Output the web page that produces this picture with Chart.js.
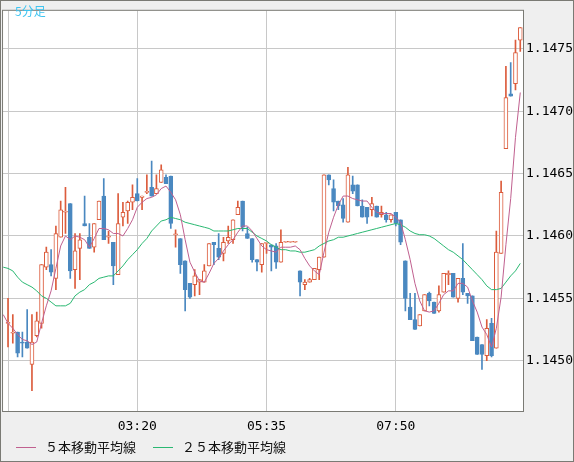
<!DOCTYPE html>
<html>
<head>
<meta charset="utf-8">
<script src="https://cdn.jsdelivr.net/npm/chart.js@4.4.1/dist/chart.umd.min.js"></script>
<style>
  html, body { margin: 0; padding: 0; background: #efefef; }
  #wrap { position: relative; width: 574px; height: 462px; overflow: hidden; }
  #c { position: absolute; left: 0; top: 0; }
  #title { position: absolute; left: 15px; top: 2px; font: 12px "Noto Sans CJK JP", sans-serif; color: #3ec4f0; }
  .lg { position: absolute; top: 438px; font: 13px "Noto Sans CJK JP", sans-serif; color: #111; white-space: nowrap; line-height: 18px; }
  .lg i { display: inline-block; width: 20px; height: 1px; vertical-align: middle; margin-right: 9px; position: relative; top: -1px; }
</style>
</head>
<body>
<div id="wrap">
  <canvas id="c" width="574" height="462"></canvas>
  <div id="title">5分足</div>
  <div class="lg" style="left:16px"><i style="background:#c0608f"></i>５本移動平均線</div>
  <div class="lg" style="left:153px"><i style="background:#2ab872"></i>２５本移動平均線</div>
</div>
<script>
// ---- data (5-minute bars, index 0 = 01:05) ----
const opens = [
1.14530,1.14522,1.14523,1.14515,1.14515,1.14497,1.14520,1.14530,1.14575,1.14577,
1.14566,1.14599,1.14619,1.14626,1.14573,1.14590,1.14610,1.14599,1.14591,1.14613,
1.14632,1.14599,1.14595,1.14569,1.14615,1.14620,1.14627,1.14634,1.14631,1.14635,
1.14639,1.14634,1.14643,1.14647,1.14648,1.14601,1.14598,1.14580,1.14562,1.14561,
1.14563,1.14563,1.14576,1.14595,1.14590,1.14586,1.14596,1.14597,1.14617,1.14628,
1.14602,1.14598,1.14581,1.14577,1.14594,1.14593,1.14592,1.14579,1.14595,1.14595,
1.14595,1.14572,1.14561,1.14563,1.14565,1.14573,1.14583,1.14649,1.14638,1.14628,
1.14625,1.14611,1.14641,1.14641,1.14624,1.14623,1.14621,1.14624,1.14617,1.14617,
1.14613,1.14619,1.14613,1.14580,1.14543,1.14533,1.14528,1.14540,1.14554,1.14547,
1.14540,1.14555,1.14569,1.14570,1.14550,1.14566,1.14554,1.14552,1.14519,1.14513,
1.14504,1.14530,1.14510,1.14586,1.14670,1.14714,1.14722,1.14757];
const highs = [
1.14550,1.14537,1.14523,1.14523,1.14541,1.14537,1.14539,1.14577,1.14591,1.14589,
1.14608,1.14628,1.14639,1.14626,1.14602,1.14602,1.14632,1.14610,1.14610,1.14628,
1.14646,1.14604,1.14595,1.14634,1.14627,1.14628,1.14641,1.14646,1.14632,1.14649,
1.14660,1.14649,1.14657,1.14649,1.14648,1.14605,1.14598,1.14580,1.14562,1.14573,
1.14565,1.14577,1.14594,1.14595,1.14602,1.14599,1.14608,1.14613,1.14628,1.14628,
1.14607,1.14598,1.14581,1.14594,1.14595,1.14593,1.14594,1.14605,1.14595,1.14595,
1.14595,1.14572,1.14565,1.14566,1.14574,1.14583,1.14649,1.14649,1.14645,1.14628,
1.14630,1.14655,1.14648,1.14641,1.14629,1.14623,1.14631,1.14624,1.14624,1.14619,
1.14617,1.14619,1.14613,1.14580,1.14554,1.14554,1.14537,1.14553,1.14555,1.14547,
1.14560,1.14570,1.14572,1.14570,1.14566,1.14594,1.14554,1.14552,1.14519,1.14513,
1.14533,1.14534,1.14604,1.14644,1.14736,1.14739,1.14757,1.14767];
const lows = [
1.14511,1.14514,1.14503,1.14503,1.14510,1.14476,1.14519,1.14526,1.14573,1.14568,
1.14557,1.14599,1.14602,1.14566,1.14558,1.14565,1.14608,1.14590,1.14587,1.14613,
1.14597,1.14594,1.14561,1.14569,1.14608,1.14610,1.14621,1.14628,1.14621,1.14634,
1.14632,1.14634,1.14643,1.14642,1.14606,1.14591,1.14570,1.14540,1.14550,1.14552,
1.14553,1.14563,1.14576,1.14577,1.14581,1.14580,1.14594,1.14594,1.14617,1.14604,
1.14598,1.14579,1.14572,1.14571,1.14586,1.14572,1.14574,1.14579,1.14595,1.14595,
1.14595,1.14552,1.14557,1.14563,1.14565,1.14565,1.14583,1.14641,1.14620,1.14621,
1.14611,1.14611,1.14634,1.14624,1.14615,1.14610,1.14616,1.14615,1.14615,1.14611,
1.14611,1.14608,1.14593,1.14540,1.14533,1.14525,1.14528,1.14540,1.14544,1.14538,
1.14539,1.14555,1.14561,1.14551,1.14547,1.14553,1.14546,1.14516,1.14505,1.14493,
1.14500,1.14503,1.14510,1.14586,1.14670,1.14712,1.14717,1.14748];
const closes = [
1.14530,1.14522,1.14506,1.14514,1.14510,1.14515,1.14532,1.14577,1.14587,1.14571,
1.14602,1.14621,1.14619,1.14572,1.14588,1.14597,1.14608,1.14590,1.14610,1.14628,
1.14597,1.14599,1.14576,1.14610,1.14619,1.14627,1.14631,1.14628,1.14632,1.14635,
1.14632,1.14638,1.14653,1.14642,1.14610,1.14601,1.14577,1.14557,1.14551,1.14568,
1.14565,1.14572,1.14594,1.14593,1.14583,1.14595,1.14599,1.14613,1.14623,1.14607,
1.14598,1.14581,1.14579,1.14594,1.14595,1.14591,1.14579,1.14595,1.14595,1.14595,
1.14595,1.14563,1.14563,1.14565,1.14574,1.14583,1.14649,1.14645,1.14627,1.14624,
1.14614,1.14649,1.14636,1.14624,1.14615,1.14615,1.14626,1.14615,1.14619,1.14613,
1.14617,1.14610,1.14595,1.14550,1.14533,1.14525,1.14537,1.14553,1.14548,1.14538,
1.14553,1.14570,1.14570,1.14551,1.14566,1.14555,1.14552,1.14516,1.14505,1.14505,
1.14526,1.14504,1.14587,1.14635,1.14711,1.14712,1.14747,1.14767];
// moving averages as drawn (first value belongs to the bar before index 0)
const ma5 = [
1.14537,1.14530,1.14526,1.14521,1.14517,1.14516,1.14513,1.14515,1.14530,1.14544,
1.14556,1.14574,1.14592,1.14600,1.14597,1.14600,1.14599,1.14597,1.14591,1.14598,
1.14606,1.14606,1.14605,1.14602,1.14602,1.14600,1.14606,1.14613,1.14623,1.14627,
1.14630,1.14631,1.14633,1.14638,1.14640,1.14635,1.14629,1.14617,1.14597,1.14579,
1.14571,1.14564,1.14563,1.14570,1.14578,1.14582,1.14588,1.14593,1.14597,1.14603,
1.14608,1.14608,1.14604,1.14598,1.14592,1.14589,1.14588,1.14587,1.14591,1.14591,
1.14591,1.14592,1.14589,1.14582,1.14576,1.14572,1.14569,1.14587,1.14603,1.14615,
1.14625,1.14632,1.14632,1.14630,1.14629,1.14628,1.14628,1.14623,1.14619,1.14618,
1.14618,1.14618,1.14615,1.14611,1.14597,1.14581,1.14562,1.14548,1.14540,1.14539,
1.14540,1.14546,1.14553,1.14556,1.14556,1.14562,1.14562,1.14559,1.14548,1.14539,
1.14527,1.14521,1.14511,1.14526,1.14551,1.14593,1.14630,1.14679,1.14715];
const ma25 = [
1.14575,1.14574,1.14572,1.14567,1.14563,1.14561,1.14559,1.14556,1.14552,1.14550,
1.14547,1.14544,1.14544,1.14544,1.14546,1.14552,1.14555,1.14557,1.14561,1.14563,
1.14566,1.14567,1.14568,1.14568,1.14572,1.14576,1.14581,1.14585,1.14589,1.14594,
1.14598,1.14604,1.14608,1.14612,1.14613,1.14615,1.14614,1.14613,1.14611,1.14610,
1.14609,1.14608,1.14607,1.14606,1.14604,1.14604,1.14604,1.14604,1.14605,1.14606,
1.14606,1.14606,1.14603,1.14600,1.14598,1.14596,1.14593,1.14591,1.14589,1.14589,
1.14588,1.14588,1.14587,1.14587,1.14588,1.14589,1.14592,1.14594,1.14596,1.14597,
1.14599,1.14599,1.14600,1.14601,1.14602,1.14603,1.14604,1.14605,1.14606,1.14607,
1.14608,1.14609,1.14610,1.14609,1.14607,1.14604,1.14602,1.14601,1.14601,1.14600,
1.14598,1.14595,1.14592,1.14589,1.14587,1.14584,1.14581,1.14577,1.14573,1.14569,
1.14565,1.14560,1.14557,1.14557,1.14558,1.14563,1.14568,1.14572,1.14578];
const xTickIndex  = [0, 27, 54, 81];
const xTickLabels = ['', '03:20', '05:35', '07:50'];
const yTickValues = [1.1450, 1.1455, 1.1460, 1.1465, 1.1470, 1.1475];
const yMin = 1.144597, yMax = 1.147805;
const xMin = -1.042, xMax = 107.57;

// ---- styles ----
const UP = '#dc5c3c', DOWN = '#4a88c0', MA5C = '#c0608f', MA25C = '#2ab872';
const GRID = '#c8c8c8', FRAME = '#7a7a74';

const isUp = opens.map((o, i) => closes[i] >= o);
const bodyData = opens.map((o, i) => ({ x: i, y: [o, closes[i]] }));
const wickData = lows.map((l, i) => ({ x: i, y: [l, highs[i]] }));
const ma5Data  = ma5.map((v, k) => ({ x: k - 1, y: v }));
const ma25Data = ma25.map((v, k) => ({ x: k - 1, y: v }));

const framePlugin = {
  id: 'frame',
  beforeDraw(chart) {
    const { ctx, chartArea: a } = chart;
    ctx.save();
    ctx.fillStyle = '#efefef';
    ctx.fillRect(0, 0, chart.width, chart.height);
    ctx.fillStyle = '#ffffff';
    ctx.fillRect(a.left, a.top, a.right - a.left, a.bottom - a.top);
    ctx.restore();
  },
  afterDraw(chart) {
    const { ctx, chartArea: a } = chart;
    ctx.save();
    ctx.strokeStyle = FRAME;
    ctx.lineWidth = 1;
    ctx.strokeRect(0.5, 0.5, chart.width - 1, chart.height - 1);
    ctx.strokeRect(a.left - 0.5, a.top - 0.5, a.right - a.left + 1, a.bottom - a.top + 1);
    ctx.restore();
  }
};

new Chart(document.getElementById('c'), {
  type: 'bar',
  data: {
    datasets: [
      { type: 'line', data: ma5Data, borderColor: MA5C, borderWidth: 1, pointRadius: 0, tension: 0, order: 0 },
      { type: 'line', data: ma25Data, borderColor: MA25C, borderWidth: 1, pointRadius: 0, tension: 0, order: 0 },
      { type: 'bar', data: bodyData, grouped: false, barThickness: 4, minBarLength: 1,
        backgroundColor: isUp.map(u => u ? '#ffffff' : DOWN),
        borderColor: isUp.map(u => u ? UP : DOWN),
        borderWidth: 1, borderSkipped: false, order: 1 },
      { type: 'bar', data: wickData, grouped: false, barThickness: 1, minBarLength: 1,
        backgroundColor: isUp.map(u => u ? UP : DOWN),
        borderWidth: 0, order: 2 }
    ]
  },
  options: {
    responsive: false,
    animation: false,
    devicePixelRatio: 1,
    layout: { padding: { left: 2, top: 1, right: 0, bottom: 0 } },
    plugins: { legend: { display: false }, tooltip: { enabled: false }, title: { display: false } },
    events: [],
    scales: {
      x: {
        type: 'linear', position: 'bottom', min: xMin, max: xMax, offset: false,
        grid: { color: GRID, lineWidth: 1, drawTicks: false, offset: false },
        border: { display: false },
        afterBuildTicks(scale) { scale.ticks = xTickIndex.map(v => ({ value: v })); },
        afterFit(scale) { scale.height = 51; },
        ticks: {
          autoSkip: false, maxRotation: 0, padding: 8, color: '#000',
          font: { family: 'DejaVu Sans Mono', size: 13 },
          callback(v) { const k = xTickIndex.indexOf(v); return k >= 0 ? xTickLabels[k] : ''; }
        }
      },
      y: {
        type: 'linear', position: 'right', min: yMin, max: yMax,
        grid: { color: GRID, lineWidth: 1, drawTicks: false },
        border: { display: false },
        afterBuildTicks(scale) { scale.ticks = yTickValues.map(v => ({ value: v })); },
        afterFit(scale) { scale.width = 51; },
        ticks: {
          padding: 3, color: '#000',
          font: { family: 'DejaVu Sans Mono', size: 13 },
          callback(v) { return Number(v).toFixed(4); }
        }
      }
    }
  },
  plugins: [framePlugin]
});
</script>
</body>
</html>
